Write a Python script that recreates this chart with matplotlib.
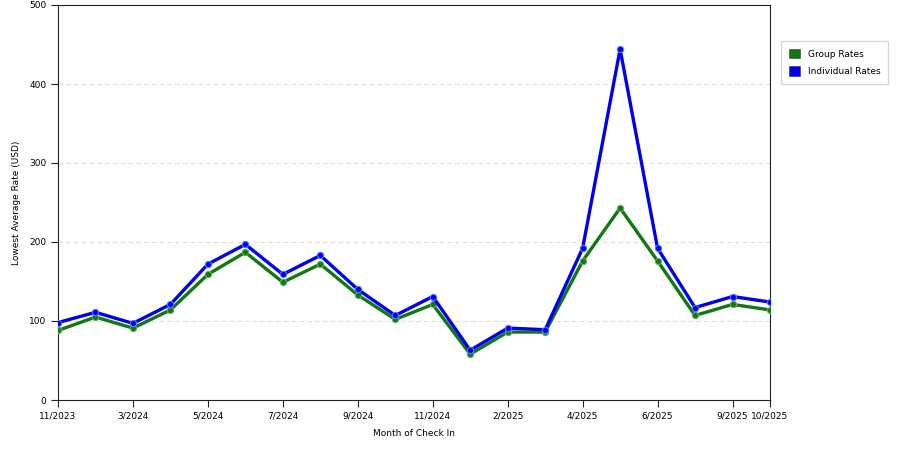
import matplotlib
matplotlib.use("Agg")
import matplotlib.pyplot as plt
from matplotlib.patches import Patch

months = ["11/2023", "1/2024", "3/2024", "4/2024", "5/2024", "6/2024", "7/2024",
          "8/2024", "9/2024", "10/2024", "11/2024", "12/2024", "2/2025", "3/2025",
          "4/2025", "5/2025", "6/2025", "8/2025", "9/2025", "10/2025"]
shown_labels = ["11/2023", "3/2024", "5/2024", "7/2024", "9/2024", "11/2024",
                "2/2025", "4/2025", "6/2025", "9/2025", "10/2025"]
group_rates = [88, 105, 91, 114, 159, 187, 149, 172, 133, 102,
               121, 58, 86, 86, 176, 243, 176, 107, 121, 114]
individual_rates = [98, 111, 97, 121, 172, 197, 159, 183, 140, 107,
                    131, 63, 91, 89, 192, 444, 192, 117, 131, 124]

green = "#117711"
blue = "#0000ee"

fig = plt.figure(figsize=(9, 4.5), dpi=100)
ax = fig.add_axes([58 / 900, 1 - 400 / 450, 712 / 900, 395 / 450])

x = list(range(len(months)))
ax.plot(x, group_rates, color=green, lw=2.4, marker="o", ms=4.5,
        mfc=green, mec="#66aa66", mew=0.8, zorder=3)
ax.plot(x, individual_rates, color=blue, lw=2.4, marker="o", ms=4.5,
        mfc=blue, mec="#5577ff", mew=0.8, zorder=4)

ax.set_xlim(0, len(months) - 1)
ax.set_ylim(0, 500)
ax.set_yticks([0, 100, 200, 300, 400, 500])
for v in [100, 200, 300, 400]:
    ax.axhline(v, color="#dddddd", lw=0.8, ls=(0, (4, 3)), zorder=1)

tick_pos = [months.index(m) for m in shown_labels]
ax.set_xticks(tick_pos)
ax.set_xticklabels(shown_labels)
ax.tick_params(axis="both", labelsize=6.5, length=5, width=0.8, color="#222222")

for s in ax.spines.values():
    s.set_color("#222222")
    s.set_linewidth(0.8)

ax.set_xlabel("Month of Check In", fontsize=6.5, labelpad=6)
ax.set_ylabel("Lowest Average Rate (USD)", fontsize=6.5, labelpad=6)

handles = [Patch(facecolor=green, edgecolor="#333333", lw=0.4),
           Patch(facecolor=blue, edgecolor="#333333", lw=0.4)]
fig.legend(handles, ["Group Rates", "Individual Rates"],
           loc="upper left", bbox_to_anchor=(776 / 900, 1 - 36 / 450),
           fontsize=6.5, frameon=True, fancybox=False, edgecolor="#cccccc",
           handlelength=1.3, handleheight=1.3, borderpad=0.9, labelspacing=0.8)

fig.savefig("out.png", dpi=100)
